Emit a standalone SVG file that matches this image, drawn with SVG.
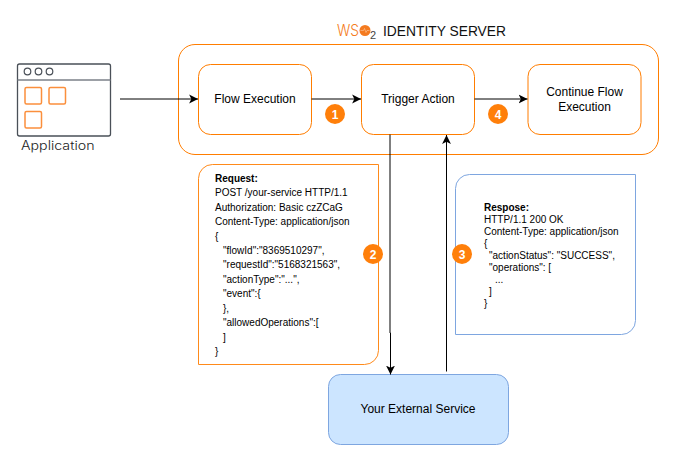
<svg xmlns="http://www.w3.org/2000/svg" width="674" height="460" viewBox="0 0 674 460">
<style>
text{font-family:"Liberation Sans",Arial,sans-serif;fill:#000}
.box{fill:#fff;stroke:#ff7d00;stroke-width:1}
.lbl{font-size:12px;text-anchor:middle}
.code{font-size:10px}
.b{font-weight:bold}
.badge circle{fill:#ff7f0a}
.badge text{fill:#fff;font-size:12px;font-weight:bold;text-anchor:middle}
.line{fill:none;stroke:#000;stroke-width:1;marker-end:url(#arrow)}
.sq{fill:#fff;stroke:#fb8f3c;stroke-width:1.500}
</style>
<defs>
<marker id="arrow" markerUnits="userSpaceOnUse" markerWidth="10" markerHeight="10" refX="8" refY="4" orient="auto" viewBox="0 0 9 8"><path d="M0 0L8 4L0 8L2 4Z" fill="#000"/></marker>
</defs>
<rect width="674" height="460" fill="#fff"/>
<g id="identity-server">
<rect class="box" x="178.500" y="44.500" width="480" height="110" rx="16.500"/>
<text x="337" y="36" style="font-size:16px;fill:#f47b20;font-family:'Inter','Liberation Sans',sans-serif;font-weight:300" textLength="22" lengthAdjust="spacingAndGlyphs">WS</text>
<circle cx="365" cy="30.500" r="5.500" fill="#f47b20"/>
<path d="M360.500 30.500h3l1-2 1.500 4 1-2h2.500" fill="none" stroke="#ffd9b8" stroke-width=".5"/>
<text x="370" y="38.500" style="font-size:11px;fill:#444">2</text>
<text x="383" y="36" style="font-size:14px;fill:#111" textLength="123" lengthAdjust="spacingAndGlyphs">IDENTITY SERVER</text>
</g>
<g id="application">
<rect x="17.500" y="64" width="93" height="72" rx="2" fill="#fff" stroke="#4a5058" stroke-width="1.300"/>
<path d="M17.500 80h93" stroke="#7b8088" stroke-width="1.300"/>
<g fill="none" stroke="#4a5058" stroke-width="1.200"><circle cx="27.500" cy="71.500" r="3.300"/><circle cx="38.500" cy="71.500" r="3.300"/><circle cx="49.500" cy="71.500" r="3.300"/></g>
<rect class="sq" x="25" y="87.500" width="16.500" height="16.500" rx="1.500"/>
<rect class="sq" x="49" y="87.500" width="16.500" height="16.500" rx="1.500"/>
<rect class="sq" x="25" y="111.500" width="16.500" height="16.500" rx="1.500"/>
<text x="21" y="150" style="font-family:'Inter','Open Sans',sans-serif;font-size:12.500px;font-weight:300;fill:#222" textLength="73.500" lengthAdjust="spacingAndGlyphs">Application</text>
</g>
<g id="flow-execution">
<rect class="box" x="198.500" y="64.500" width="113" height="70" rx="12"/>
<text class="lbl" x="255" y="103">Flow Execution</text>
</g>
<g id="trigger-action">
<rect class="box" x="361.500" y="64.500" width="113" height="70" rx="12"/>
<text class="lbl" x="418" y="103">Trigger Action</text>
</g>
<g id="continue-flow">
<rect class="box" x="528" y="64.500" width="113" height="70" rx="12"/>
<text class="lbl" x="584.500" y="96">Continue Flow</text>
<text class="lbl" x="584.500" y="111">Execution</text>
</g>
<g id="request">
<path d="M212.500 164.500H378.500V350.500a14 14 0 0 1-14 14H198.500V178.500a14 14 0 0 1 14-14Z" fill="#fff" stroke="#ff8a1a"/>
<g class="code">
<text class="b" x="215" y="182">Request:</text>
<text x="215" y="196">POST /your-service HTTP/1.1</text>
<text x="215" y="211">Authorization: Basic czZCaG</text>
<text x="215" y="225">Content-Type: application/json</text>
<text x="215" y="240">{</text>
<text x="223" y="254">"flowId":"8369510297",</text>
<text x="223" y="268">"requestId":"5168321563",</text>
<text x="223" y="283">"actionType":"...",</text>
<text x="223" y="297">"event":{</text>
<text x="223" y="312">},</text>
<text x="223" y="326">"allowedOperations":[</text>
<text x="223" y="341">]</text>
<text x="215" y="355">}</text>
</g>
</g>
<g id="response">
<path d="M469.500 174.500H635.500V320.500a14 14 0 0 1-14 14H455.500V188.500a14 14 0 0 1 14-14Z" fill="#fff" stroke="#7ea6e0"/>
<g class="code">
<text class="b" x="484" y="211">Respose:</text>
<text x="484" y="223">HTTP/1.1 200 OK</text>
<text x="484" y="235">Content-Type: application/json</text>
<text x="484" y="247">{</text>
<text x="489" y="259">"actionStatus": "SUCCESS",</text>
<text x="489" y="271">"operations": [</text>
<text x="495" y="283">...</text>
<text x="489" y="295">]</text>
<text x="484" y="307">}</text>
</g>
</g>
<g id="external-service">
<rect x="328.500" y="374.500" width="180" height="70" rx="12" fill="#cce5ff" stroke="#7ea6e0"/>
<text class="lbl" x="418" y="413">Your External Service</text>
</g>
<g id="connectors">
<path class="line" d="M120 99H198"/>
<path class="line" d="M311.500 99H361"/>
<path class="line" d="M474.500 99H527.500"/>
<path class="line" d="M390 134.500V333H390.500V374.500"/>
<path class="line" d="M446.500 371.500V135"/>
</g>
<g id="badge-1" class="badge"><circle cx="335" cy="114" r="10"/><text x="335" y="118.500">1</text></g>
<g id="badge-4" class="badge"><circle cx="498" cy="114" r="10"/><text x="498" y="118.500">4</text></g>
<g id="badge-2" class="badge"><circle cx="373" cy="254" r="10"/><text x="373" y="258.500">2</text></g>
<g id="badge-3" class="badge"><circle cx="462" cy="254" r="10"/><text x="462" y="258.500">3</text></g>
</svg>
